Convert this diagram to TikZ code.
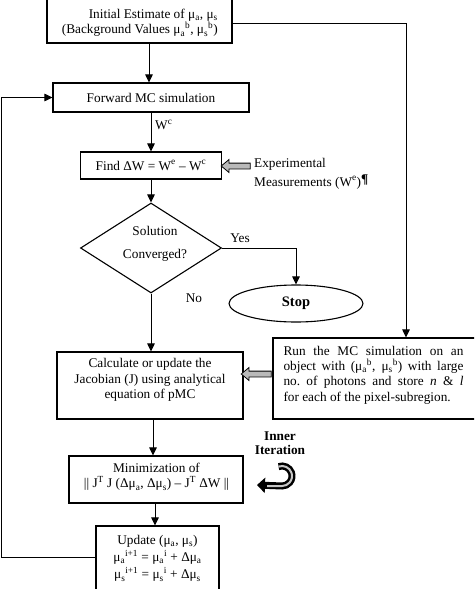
\documentclass[tikz,border=0pt]{standalone}
\usepackage{fontspec}
\setmainfont{Liberation Serif}
\usetikzlibrary{shapes.geometric,shapes.arrows,arrows.meta,calc}
\tikzset{
  box/.style={draw, line width=1.1pt, rectangle, inner sep=0pt},
  txt/.style={font=\fontsize{13.3}{15.3}\selectfont, align=center, inner sep=0pt},
  txtb/.style={font=\fontsize{13.3}{14}\selectfont\bfseries, align=center, inner sep=0pt},
  conn/.style={line width=1pt, -{Triangle[length=8pt,width=7.5pt]}},
  fat/.style={single arrow, draw, line width=0.8pt, fill=gray!55, shape border rotate=180,
    single arrow head extend=3.5pt, single arrow tip angle=80, inner sep=0pt, outer sep=0pt},
}
\begin{document}
\begin{tikzpicture}[x=1pt,y=-1pt]
\useasboundingbox (0,0) rectangle (474,589);
\clip (0,0) rectangle (474,589);
\fill[white] (0,0) rectangle (474,589);

% boxes
\node[box, minimum width=185pt, minimum height=46pt] (init) at (139.5,20) {};
\node[txt, align=right, anchor=east] (initt) at (218,23) {Initial Estimate of μ\textsubscript{a}, μ\textsubscript{s}\\(Background Values μ\textsubscript{a}\textsuperscript{b}, μ\textsubscript{s}\textsuperscript{b})};

\node[box, txt, minimum width=196pt, minimum height=29pt] (fwd) at (151,97.5) {Forward MC simulation};

\node[box, txt, minimum width=141pt, minimum height=27pt] (find) at (151,165.5) {Find ΔW = W\textsuperscript{e} – W\textsuperscript{c}};

\node[diamond, draw, line width=1.1pt, minimum width=141pt, minimum height=90pt, aspect=1.57, inner sep=0pt] (dia) at (151,248) {};
\node[txt] (diat) at (155,243.5) {Solution\\[8pt]Converged?};

\node[ellipse, draw, line width=1.1pt, minimum width=134pt, minimum height=37pt, inner sep=0pt, font=\fontsize{14.5}{17}\selectfont\bfseries] (stop) at (296,303.5) {Stop};

\node[box, minimum width=186pt, minimum height=67pt] (calc) at (150,385.5) {};
\node[txt] (calct) at (150,380) {Calculate or update the\\Jacobian (J) using analytical\\equation of pMC};

\node[box, minimum width=210pt, minimum height=81pt] (run) at (378,378.5) {};
\node[txt, text width=180pt, align=justify] (runt) at (373.5,375) {Run the MC simulation on an\linebreak object with (μ\textsubscript{a}\textsuperscript{b}, μ\textsubscript{s}\textsuperscript{b}) with large\linebreak no.\ of photons and store \textit{n} \& \textit{l}\linebreak for each of the pixel-subregion.};

\node[box, minimum width=174pt, minimum height=47pt] (min) at (156,479.5) {};
\node[txt] (mint) at (156.5,477) {Minimization of\\|| J\textsuperscript{T} J (Δμ\textsubscript{a}, Δμ\textsubscript{s}) – J\textsuperscript{T} ΔW ||};

\node[box, minimum width=123pt, minimum height=74pt] (upd) at (157.5,563) {};
\node[txt] (updt) at (157.5,558.5) {Update (μ\textsubscript{a}, μ\textsubscript{s})\\[2pt]μ\textsubscript{a}\textsuperscript{i+1} = μ\textsubscript{a}\textsuperscript{i} + Δμ\textsubscript{a}\\[2pt]μ\textsubscript{s}\textsuperscript{i+1} = μ\textsubscript{s}\textsuperscript{i} + Δμ\textsubscript{s}};

% labels
\node[txt, anchor=west] (wc) at (155,125) {W\textsuperscript{c}};
\node[txt] (yes) at (240,238) {Yes};
\node[txt] (no) at (194,298) {No};
\node[txt, align=left, anchor=west] (exp) at (254,173.5) {Experimental\\[3.7pt]Measurements (W\textsuperscript{e})\raisebox{3pt}{\textbf{¶}}};
\node[txtb] (inner) at (280,443) {Inner\\Iteration};

% fat arrows
\node[fat, minimum height=29pt] (fa1) at (237.5,166) {\rule{0pt}{5pt}};
\node[fat, minimum height=30pt] (fa2) at (258,374) {\rule{0pt}{5pt}};

% inner iteration icon
\draw[line width=7pt, -{Triangle[length=8pt,width=15pt]}] (278.6,466.6) arc[start angle=110, end angle=-90, radius=10pt] -- (257,485);
\draw[line width=2pt, gray!45] (278.6,466.6) arc[start angle=110, end angle=-90, radius=10pt] -- (267,486);

% connectors
\draw[conn] ([xshift=9.5pt]init.south) -- ([xshift=-2pt]fwd.north);
\draw[conn] (fwd.south) -- (find.north);
\draw[conn] (find.south) -- (dia.north);
\draw[conn] (dia.east) -| (stop.north);
\draw[conn] (dia.south) -- (dia.south |- calc.north);
\draw[conn] ([xshift=3pt]calc.south) -- ([xshift=-3pt]min.north);
\draw[conn] ([xshift=-1pt]min.south) -- ([xshift=-2.5pt]upd.north);
\draw[conn] ([yshift=-3pt]init.east) -| ([xshift=28pt]run.north);
\coordinate (lp) at (1.5,300);
\draw[conn] ([yshift=6pt]upd.west) -| (lp) |- (fwd.west);
\end{tikzpicture}
\end{document}
